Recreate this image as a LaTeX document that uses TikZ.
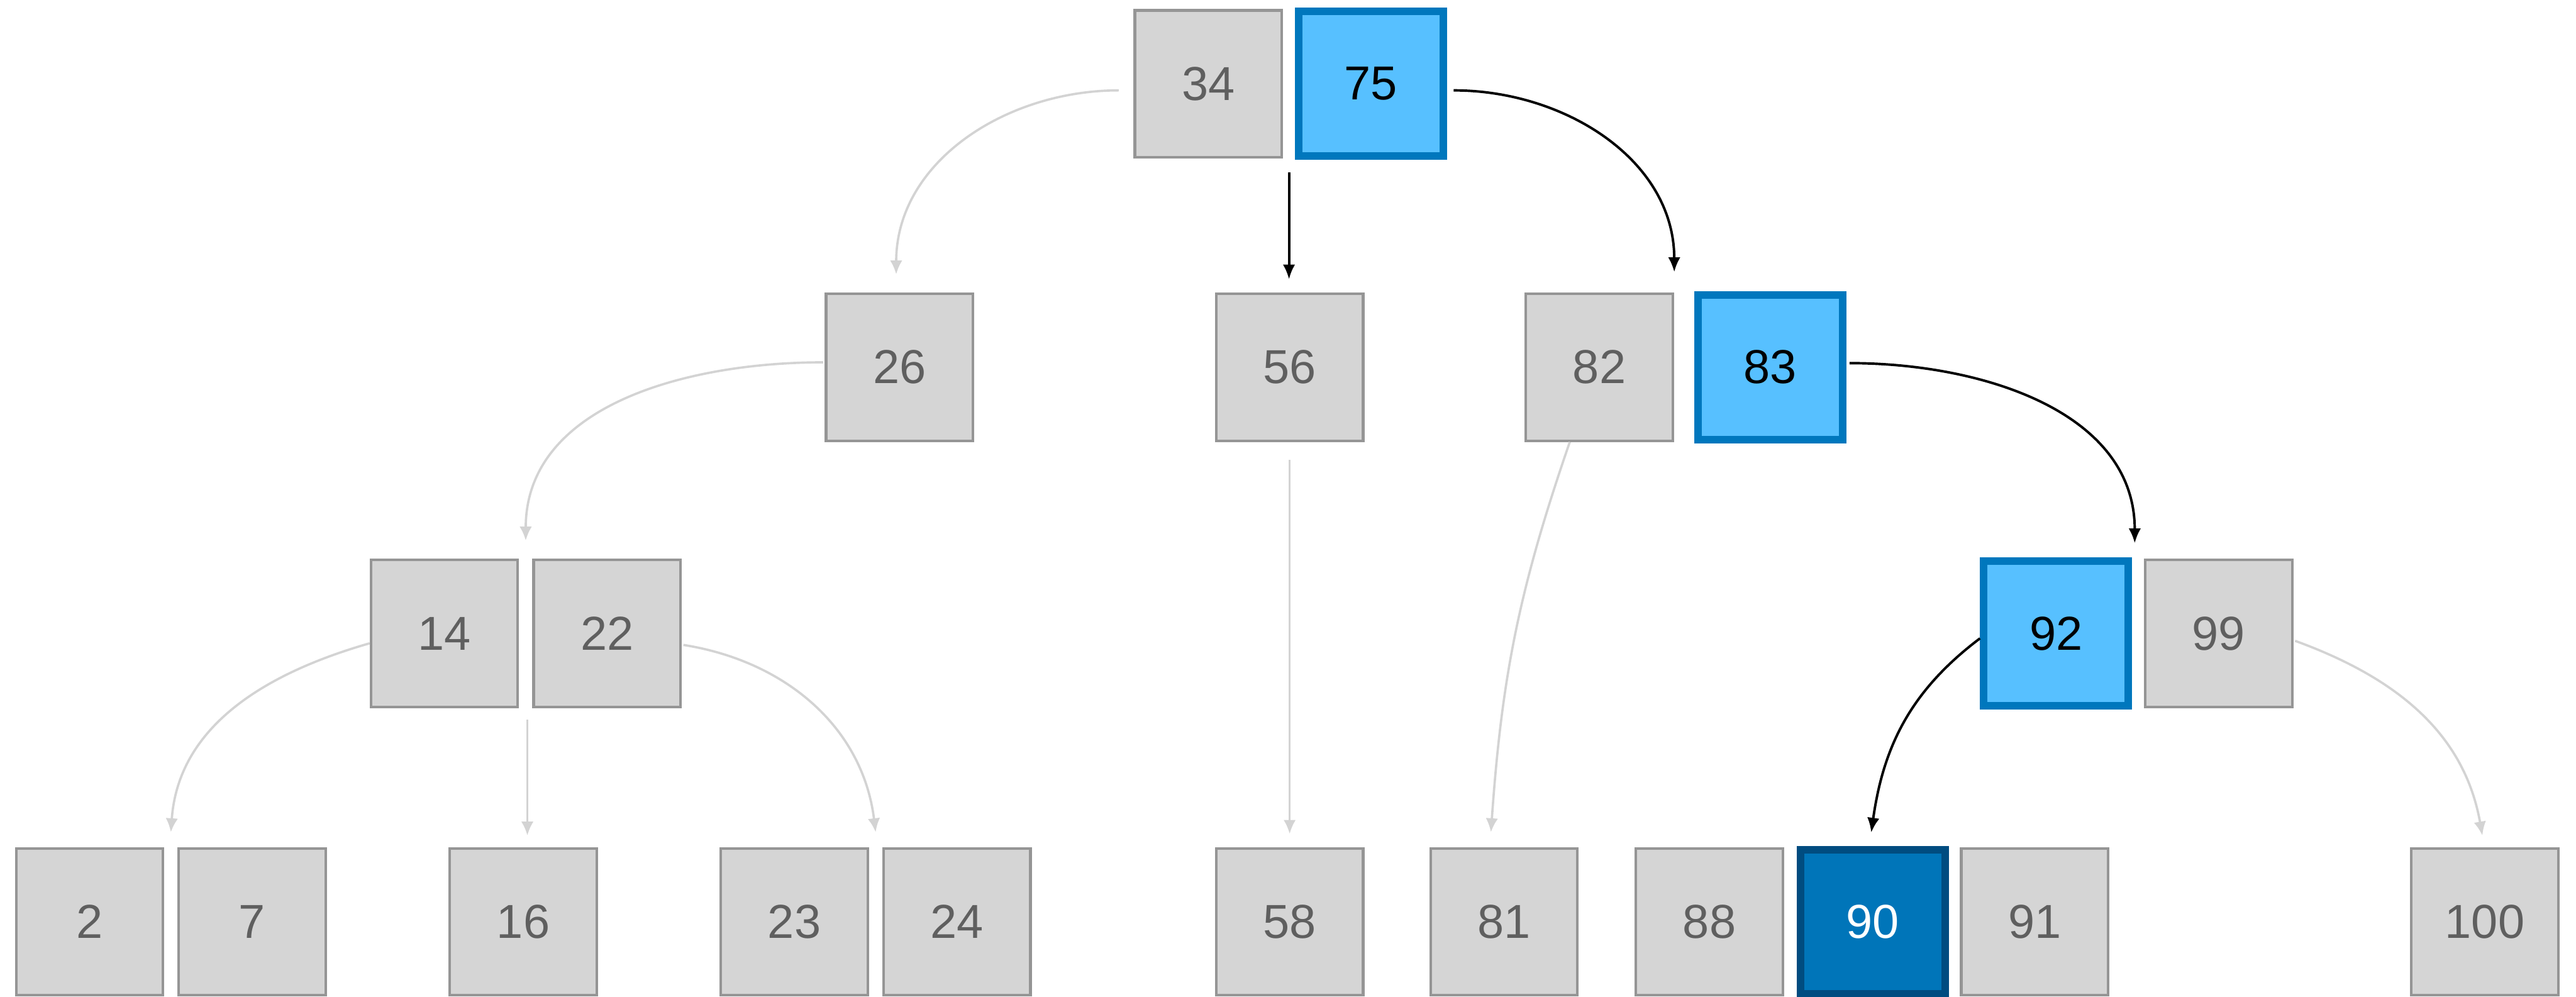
\documentclass[tikz,border=0pt]{standalone}
\usepackage{fontspec}
\setmainfont{Liberation Sans}
\usetikzlibrary{arrows.meta,calc}
\definecolor{gfill}{HTML}{D5D5D5}
\definecolor{gline}{HTML}{959595}
\definecolor{gtext}{HTML}{5F5F5F}
\definecolor{bfill}{HTML}{57C0FF}
\definecolor{bline}{HTML}{0077BD}
\definecolor{dfill}{HTML}{0075B9}
\definecolor{dline}{HTML}{004C80}
\definecolor{edgegray}{HTML}{D3D3D3}
\begin{document}
\begin{tikzpicture}[x=1pt,y=1pt,
  key/.style={draw=gline,fill=gfill,line width=1.6pt,minimum size=89.4pt,inner sep=0pt,
    text=gtext,font=\fontsize{29}{29}\selectfont},
  hot/.style={key,draw=bline,fill=bfill,line width=4.6pt,minimum size=88pt,text=black},
  found/.style={key,draw=dline,fill=dfill,line width=4.6pt,minimum size=88pt,text=white},
  dim/.style={draw=edgegray,line width=1.4pt,-{Latex[length=8.5pt,width=7.5pt]}},
  live/.style={draw=black,line width=1.5pt,-{Latex[length=9pt,width=7.5pt]}}]
\useasboundingbox (0,0) rectangle (1568,-606.4);
% level 1
\node[key] (n34) at (735.5,-51) {34};
\node[hot] (n75) at (834.5,-51) {75};
% level 2
\node[key] (n26) at (547.5,-223.5) {26};
\node[key] (n56) at (785,-223.5) {56};
\node[key] (n82) at (973.5,-223.5) {82};
\node[hot] (n83) at (1077.5,-223.5) {83};
% level 3
\node[key] (n14) at (270.5,-385.5) {14};
\node[key] (n22) at (369.5,-385.5) {22};
\node[hot] (n92) at (1251.5,-385.5) {92};
\node[key] (n99) at (1350.5,-385.5) {99};
% level 4
\node[key] (n2) at (54.5,-561) {2};
\node[key] (n7) at (153.5,-561) {7};
\node[key] (n16) at (318.5,-561) {16};
\node[key] (n23) at (483.5,-561) {23};
\node[key] (n24) at (582.5,-561) {24};
\node[key] (n58) at (785,-561) {58};
\node[key] (n81) at (915.5,-561) {81};
\node[key] (n88) at (1040.5,-561) {88};
\node[found] (n90) at (1140,-561) {90};
\node[key] (n91) at (1238.5,-561) {91};
\node[key] (n100) at (1512.5,-561) {100};
% free ends below key gaps
\coordinate (g1) at ($(n34.south east)!0.5!(n75.south west)+(0,-8)$);
\coordinate (g2) at ($(n14.south east)!0.5!(n22.south west)+(1,-7)$);
% connectors (grey)
\draw[dim] ($(n34.west)+(-9,-4)$) to[out=180,in=90] ($(n26.north)+(-2,11)$);
\draw[dim] ($(n26.west)+(-1,3)$) to[out=180,in=90] ($(n14.north east)!0.5!(n22.north west)+(0,11)$);
\draw[dim] ($(n56.south)+(0,-11)$) -- ($(n58.north)+(0,8)$);
\draw[dim] ($(n82.south)+(-18,0)$) to[out=-109,in=86] ($(n81.north)+(-8,9)$);
\draw[dim] ($(n14.west)+(0,-6)$) to[out=196,in=86] ($(n2.north east)!0.5!(n7.north west)+(0,9)$);
\draw[dim] (g2) -- ($(g2 |- n16.north)+(0,7)$);
\draw[dim] ($(n22.east)+(1,-7)$) to[out=-9,in=97] ($(n23.north east)!0.5!(n24.north west)+(0,9)$);
\draw[dim] ($(n99.east)+(1,-4.5)$) to[out=-20,in=100] ($(n100.north)+(-1.5,7)$);
% connectors (black, search path)
\draw[live] (g1) -- ($(g1 |- n56.north)+(0,8)$);
\draw[live] ($(n75.east)+(4,-4)$) to[out=0,in=90] ($(n82.north east)!0.5!(n83.north west)+(-6,12)$);
\draw[live] ($(n83.east)+(2,2.5)$) to[out=0,in=90] ($(n92.north east)!0.5!(n99.north west)+(-2,9)$);
\draw[live] ($(n92.west)+(0,-3)$) to[out=217,in=82] ($(n90.north)+(-1,8)$);
\end{tikzpicture}
\end{document}
